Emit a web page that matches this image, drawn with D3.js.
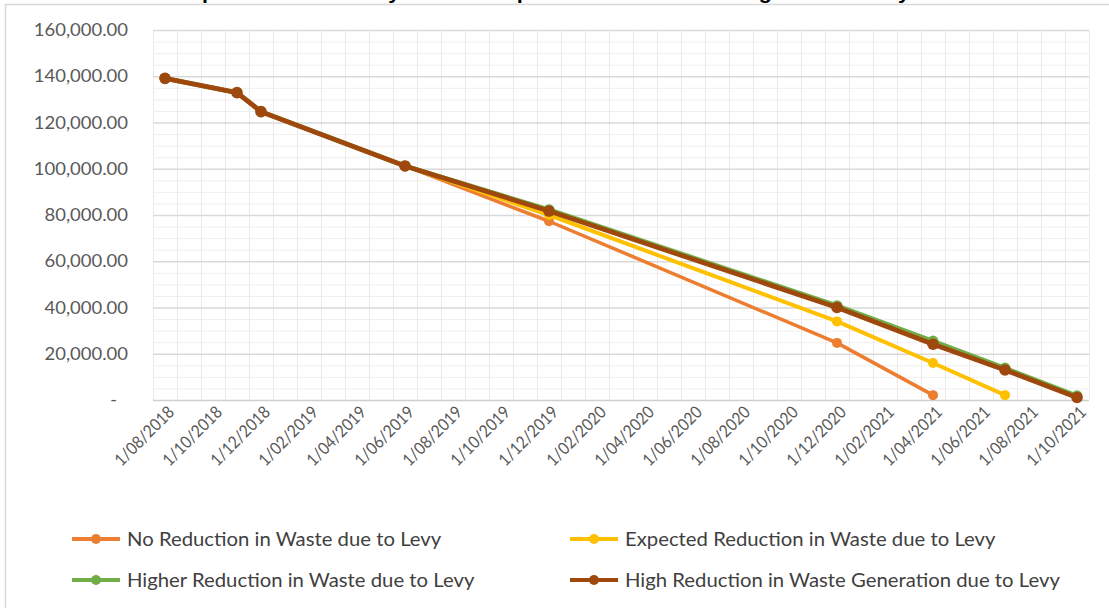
<!DOCTYPE html>
<html>
<head>
<meta charset="utf-8">
<script src="https://cdnjs.cloudflare.com/ajax/libs/d3/7.8.5/d3.min.js"></script>
<style>
  html, body { margin: 0; padding: 0; background: #fff; }
  svg { display: block; }
</style>
</head>
<body>
<svg id="chart" width="1109" height="608"></svg>
<script>
// ---- data ----
const titleText = "Airspace Consumed by Landfill Deposits with Waste Change due to Levy";

const seriesNames = [
  "No Reduction in Waste due to Levy",
  "Expected Reduction in Waste due to Levy",
  "Higher Reduction in Waste due to Levy",
  "High Reduction in Waste Generation due to Levy"
];
const seriesColors = ["#ED7D31", "#FFC000", "#70AD47", "#9E480E"];

const noReductionDates  = ["1/08/2018","1/11/2018","1/12/2018","1/06/2019","1/12/2019","1/12/2020","1/04/2021"];
const noReductionValues = [139100, 132900, 124700, 101200, 77300, 24700, 2100];

const expectedDates  = ["1/08/2018","1/11/2018","1/12/2018","1/06/2019","1/12/2019","1/12/2020","1/04/2021","1/07/2021"];
const expectedValues = [139100, 132900, 124700, 101200, 80000, 34000, 16000, 2100];

const higherDates  = ["1/08/2018","1/11/2018","1/12/2018","1/06/2019","1/12/2019","1/12/2020","1/04/2021","1/07/2021","1/10/2021"];
const higherValues = [139100, 132900, 124700, 101200, 82300, 40800, 25500, 13800, 1800];

const highDates  = ["1/08/2018","1/11/2018","1/12/2018","1/06/2019","1/12/2019","1/12/2020","1/04/2021","1/07/2021","1/10/2021"];
const highValues = [139100, 132900, 124700, 101200, 81700, 40000, 24100, 13000, 1100];

const xTickLabels = ["1/08/2018","1/10/2018","1/12/2018","1/02/2019","1/04/2019","1/06/2019","1/08/2019",
  "1/10/2019","1/12/2019","1/02/2020","1/04/2020","1/06/2020","1/08/2020","1/10/2020","1/12/2020",
  "1/02/2021","1/04/2021","1/06/2021","1/08/2021","1/10/2021"];

const yTickValues = [0, 20000, 40000, 60000, 80000, 100000, 120000, 140000, 160000];
const yTickLabels = ["-", "20,000.00", "40,000.00", "60,000.00", "80,000.00", "100,000.00",
  "120,000.00", "140,000.00", "160,000.00"];

// ---- setup ----
const parseDate = d3.timeParse("%d/%m/%Y");
const monthKey = d3.timeFormat("%Y-%m");

const series = [
  { name: seriesNames[0], color: seriesColors[0], dates: noReductionDates, values: noReductionValues, width: 3.5, r: 5 },
  { name: seriesNames[1], color: seriesColors[1], dates: expectedDates, values: expectedValues, width: 4, r: 5 },
  { name: seriesNames[2], color: seriesColors[2], dates: higherDates, values: higherValues, width: 4.5, r: 5.5 },
  { name: seriesNames[3], color: seriesColors[3], dates: highDates, values: highValues, width: 4.8, r: 5.8 }
].map(s => ({ ...s, points: s.dates.map((d, i) => ({ date: parseDate(d), value: s.values[i] })) }));

const firstMonth = parseDate(xTickLabels[0]);
const lastMonth = parseDate(xTickLabels[xTickLabels.length - 1]);
const months = d3.timeMonth.range(firstMonth, d3.timeMonth.offset(lastMonth, 1));

const plot = { left: 153, right: 1089, top: 30, bottom: 400 };

const x = d3.scaleBand()
  .domain(months.map(monthKey))
  .range([plot.left, plot.right])
  .padding(0);
const xc = d => x(monthKey(d)) + x.bandwidth() / 2;

const y = d3.scaleLinear()
  .domain([0, 160000])
  .range([plot.bottom, plot.top]);

const svg = d3.select("#chart");
const FONT = "Lato, 'Open Sans', sans-serif";

// stretch text horizontally by factor k
function stretch(sel, k) {
  sel.each(function () {
    const len = this.getComputedTextLength();
    d3.select(this).attr("textLength", len * k).attr("lengthAdjust", "spacingAndGlyphs");
  });
}

// background and chart frame
svg.append("rect").attr("width", 1109).attr("height", 608).attr("fill", "#fff");
svg.append("rect")
  .attr("x", 5.5).attr("y", 4.5)
  .attr("width", 1120).attr("height", 620)
  .attr("fill", "#fff")
  .attr("stroke", "#d9d9d9").attr("stroke-width", 1.5);

// title (its upper part runs above the top edge of the page)
svg.append("text")
  .attr("x", 160).attr("y", -1)
  .attr("font-family", "'Liberation Sans', Arial, sans-serif")
  .attr("font-weight", "bold")
  .attr("font-size", 21)
  .attr("fill", "#000")
  .attr("textLength", 750)
  .attr("lengthAdjust", "spacingAndGlyphs")
  .text(titleText);

// ---- gridlines ----
const grid = svg.append("g");
// minor horizontal every 5,000
grid.selectAll("line.hminor")
  .data(d3.range(5000, 160000, 5000).filter(v => v % 20000 !== 0))
  .join("line")
  .attr("x1", plot.left).attr("x2", plot.right)
  .attr("y1", d => y(d) + 0.5).attr("y2", d => y(d) + 0.5)
  .attr("stroke", "#efefef").attr("stroke-width", 1);
// vertical month boundaries
grid.selectAll("line.v")
  .data(months.map(m => x(monthKey(m))).concat([plot.right]))
  .join("line")
  .attr("x1", d => d + 0.5).attr("x2", d => d + 0.5)
  .attr("y1", plot.top).attr("y2", plot.bottom)
  .attr("stroke", "#eaeaea").attr("stroke-width", 1);
// major horizontal
grid.selectAll("line.hmajor")
  .data(yTickValues.filter(v => v > 0))
  .join("line")
  .attr("x1", plot.left).attr("x2", plot.right)
  .attr("y1", d => y(d) + 0.5).attr("y2", d => y(d) + 0.5)
  .attr("stroke", "#d9d9d9").attr("stroke-width", 1.3);
// axis baseline
grid.append("line")
  .attr("x1", plot.left).attr("x2", plot.right)
  .attr("y1", y(0) + 0.5).attr("y2", y(0) + 0.5)
  .attr("stroke", "#d0d0d0").attr("stroke-width", 1.5);

// ---- axes ----
const yAxis = svg.append("g")
  .attr("transform", `translate(${plot.left},0)`)
  .call(d3.axisLeft(y).tickValues(yTickValues).tickSize(0).tickPadding(25)
    .tickFormat((d, i) => yTickLabels[i]));
yAxis.select(".domain").remove();
yAxis.selectAll("text")
  .attr("font-family", FONT).attr("font-size", 17.5).attr("fill", "#595959")
  .attr("dx", (d) => d === 0 ? -11 : 0);
stretch(yAxis.selectAll("text"), 1.055);

const labelKeys = xTickLabels.map(l => monthKey(parseDate(l)));
const xAxis = svg.append("g")
  .attr("transform", `translate(0,${plot.bottom})`)
  .call(d3.axisBottom(x).tickValues(labelKeys).tickSize(0).tickPadding(0)
    .tickFormat((d, i) => xTickLabels[i]));
xAxis.select(".domain").remove();
xAxis.selectAll("text")
  .attr("font-family", FONT).attr("font-size", 17).attr("fill", "#595959")
  .attr("text-anchor", "end")
  .attr("dy", "0.35em")
  .attr("transform", "translate(6,9) rotate(-45)")
  .attr("y", 0);
stretch(xAxis.selectAll("text"), 0.9);

// ---- series ----
const line = d3.line().x(d => xc(d.date)).y(d => y(d.value));
const marks = svg.append("g");
series.forEach(s => {
  const g = marks.append("g");
  g.append("path")
    .datum(s.points)
    .attr("d", line)
    .attr("fill", "none")
    .attr("stroke", s.color)
    .attr("stroke-width", s.width)
    .attr("stroke-linejoin", "round")
    .attr("stroke-linecap", "round");
  g.selectAll("circle")
    .data(s.points)
    .join("circle")
    .attr("cx", d => xc(d.date))
    .attr("cy", d => y(d.value))
    .attr("r", s.r)
    .attr("fill", s.color);
});

// ---- legend ----
const legendPos = [
  { x: 72, y: 539 }, { x: 570, y: 539 },
  { x: 72, y: 580 }, { x: 570, y: 580 }
];
const legend = svg.append("g");
series.forEach((s, i) => {
  const p = legendPos[i];
  const g = legend.append("g").attr("transform", `translate(${p.x},${p.y})`);
  g.append("line").attr("x1", 0).attr("x2", 48).attr("y1", 0).attr("y2", 0)
    .attr("stroke", s.color).attr("stroke-width", 4);
  g.append("circle").attr("cx", 24).attr("cy", 0).attr("r", 5).attr("fill", s.color);
  g.append("text")
    .attr("x", 55).attr("y", 0).attr("dy", "0.35em")
    .attr("font-family", FONT).attr("font-size", 20).attr("fill", "#404040")
    .text(s.name);
});
stretch(legend.selectAll("text"), 1.015);
</script>
</body>
</html>
